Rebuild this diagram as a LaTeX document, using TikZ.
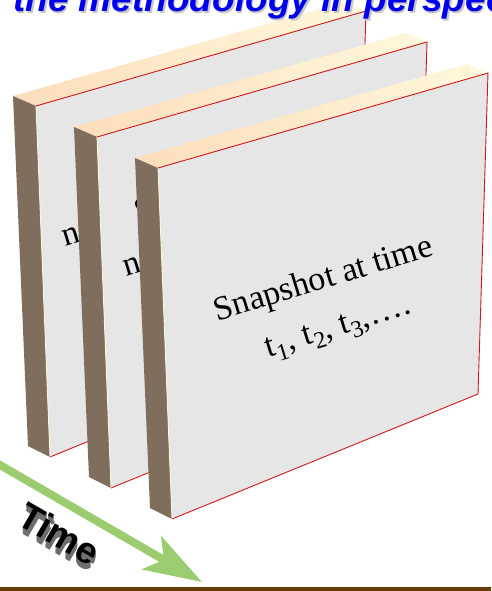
\documentclass[tikz,border=0pt]{standalone}
\usepackage{fontspec}
\setmainfont{Liberation Serif}
\newfontfamily\arialfont{Liberation Sans}
\usetikzlibrary{arrows.meta}

\definecolor{facegray}{HTML}{E6E6E6}
\definecolor{sidebrown}{HTML}{7F6E5C}
\definecolor{toppeach}{HTML}{FCDDBB}
\definecolor{topcream}{HTML}{FFF8DC}
\definecolor{edgered}{HTML}{D01818}
\definecolor{titleblue}{HTML}{0000F0}
\definecolor{arrowgreen}{HTML}{9CCC70}
\definecolor{barbrown}{HTML}{6B3A0A}
\definecolor{deepgray}{HTML}{6E6E6E}

% gray extrusion behind a word, all in one box
\newcommand\extruded[1]{%
  \rlap{\textcolor{deepgray}{\kern3.6pt\raisebox{-5.4pt}{#1}}}%
  \rlap{\textcolor{deepgray}{\kern3.0pt\raisebox{-4.5pt}{#1}}}%
  \rlap{\textcolor{deepgray}{\kern2.4pt\raisebox{-3.6pt}{#1}}}%
  \rlap{\textcolor{deepgray}{\kern1.8pt\raisebox{-2.7pt}{#1}}}%
  \rlap{\textcolor{deepgray}{\kern1.2pt\raisebox{-1.8pt}{#1}}}%
  \rlap{\textcolor{deepgray}{\kern0.6pt\raisebox{-0.9pt}{#1}}}%
  #1}

\tikzset{
  pics/panel/.style={code={
    \shade[left color=toppeach,right color=topcream] (135,158)--(158,168)--(488,73)--(467,64)--cycle;
    \fill[sidebrown] (135,158)--(158,168)--(172,519)--(150,508)--cycle;
    \fill[facegray] (158,168)--(488,73)--(478,394)--(172,519)--cycle;
    \draw[edgered,line width=0.9pt] (158,168)--(488,73)--(478,394)--(172,519);
    \draw[topcream,line width=0.8pt] (158,168)--(172,519);
  }},
  snaptext/.style={font=\fontsize{34}{49}\selectfont,rotate=17,align=center,inner sep=0pt},
  timetext/.style={font=\arialfont\bfseries\fontsize{37}{40}\selectfont,rotate=-30,inner sep=0pt},
  titletext/.style={font=\arialfont\bfseries\itshape\fontsize{37}{40}\selectfont,anchor=base west,inner sep=0pt},
  timearrow/.style={arrowgreen,line width=8pt,-{Stealth[length=58pt,width=38pt,inset=14pt]}}
}

\begin{document}
\begin{tikzpicture}[x=1pt,y=-1pt]
  \clip (0,0) rectangle (491,591);
  \fill[white] (0,0) rectangle (491,591);

  % three snapshots, back to front
  \pic at (-122,-62) {panel};
  \node[snaptext] (n1) at (71,236) {n};
  \pic at (-61,-31) {panel};
  \node[snaptext] (s2) at (144,209) {S};
  \node[snaptext] (n2) at (132,266) {n};
  \pic at (0,0) {panel};
  \node[snaptext] (snap) at (331,304) {Snapshot at time\\t\textsubscript{1}, t\textsubscript{2}, t\textsubscript{3},….};

  % time axis
  \node[timetext] (time) at (58,536) {\extruded{Time}};
  \coordinate (tstart) at (-6,461.5);
  \coordinate (tend) at (202,582);
  \draw[timearrow] (tstart)--(tend);

  \fill[barbrown] (0,587) rectangle (491,591);

  \node[titletext,text=gray!45] (titleshadow) at (14.5,13.5) {the methodology in perspec};
  \node[titletext,text=titleblue] (title) at (13,12) {the methodology in perspec};
\end{tikzpicture}
\end{document}
